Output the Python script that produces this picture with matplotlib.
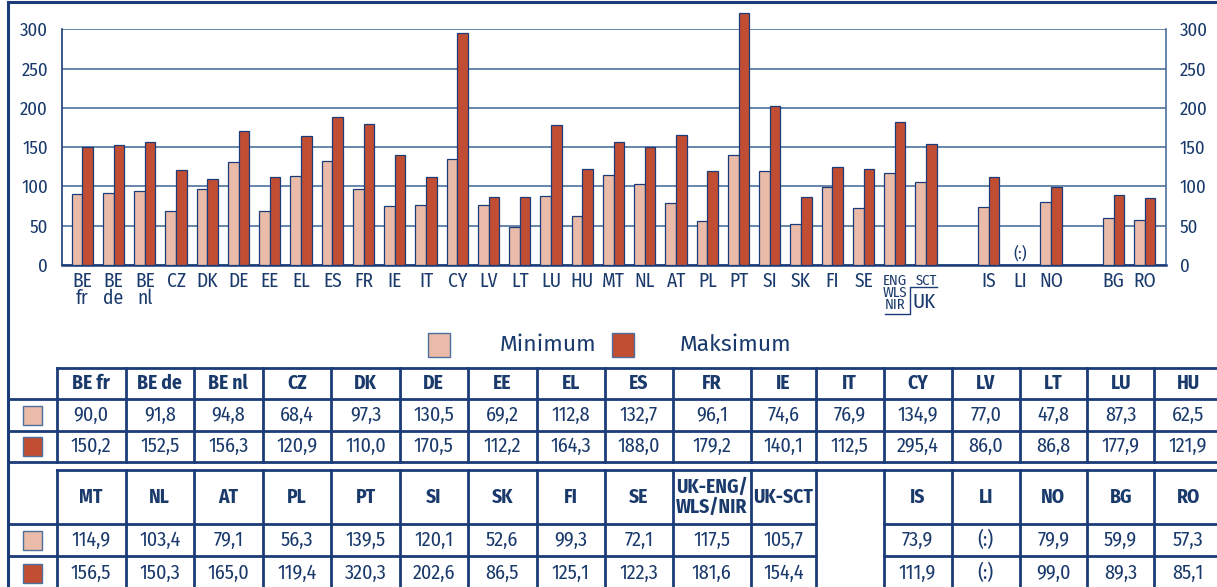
import numpy as np
import matplotlib
matplotlib.use("Agg")
import matplotlib.pyplot as plt
from matplotlib.patches import Rectangle

plt.rcParams['font.family'] = ['Fira Sans Condensed', 'Archivo Narrow', 'DejaVu Sans']

# data (index, EU-27 = 100)
countries = ['BE fr', 'BE de', 'BE nl', 'CZ', 'DK', 'DE', 'EE', 'EL', 'ES', 'FR', 'IE',
             'IT', 'CY', 'LV', 'LT', 'LU', 'HU',
             'MT', 'NL', 'AT', 'PL', 'PT', 'SI', 'SK', 'FI', 'SE',
             'UK-ENG/\nWLS/NIR', 'UK-SCT', 'IS', 'LI', 'NO', 'BG', 'RO']
x_labels = ['BE\nfr', 'BE\nde', 'BE\nnl', 'CZ', 'DK', 'DE', 'EE', 'EL', 'ES', 'FR', 'IE',
            'IT', 'CY', 'LV', 'LT', 'LU', 'HU',
            'MT', 'NL', 'AT', 'PL', 'PT', 'SI', 'SK', 'FI', 'SE',
            '', '', 'IS', 'LI', 'NO', 'BG', 'RO']
minimum = [90.0, 91.8, 94.8, 68.4, 97.3, 130.5, 69.2, 112.8, 132.7, 96.1, 74.6,
           76.9, 134.9, 77.0, 47.8, 87.3, 62.5,
           114.9, 103.4, 79.1, 56.3, 139.5, 120.1, 52.6, 99.3, 72.1,
           117.5, 105.7, 73.9, np.nan, 79.9, 59.9, 57.3]
maximum = [150.2, 152.5, 156.3, 120.9, 110.0, 170.5, 112.2, 164.3, 188.0, 179.2, 140.1,
           112.5, 295.4, 86.0, 86.8, 177.9, 121.9,
           156.5, 150.3, 165.0, 119.4, 320.3, 202.6, 86.5, 125.1, 122.3,
           181.6, 154.4, 111.9, np.nan, 99.0, 89.3, 85.1]
group_sizes = [28, 3, 2]   # EU+UK / EEA / candidate countries
n_table1 = 17

NAVY = '#1b3c78'
TXT = '#1a3a6c'
GRID = '#4d6f9c'
C_MIN = '#e9bba8'
C_MAX = '#c14d33'

# x positions with one empty slot between groups
pos = []
start = 0
for g in group_sizes:
    pos += list(range(start, start + g))
    start += g + 1
pos = np.array(pos, dtype=float)

W, H = 1217, 587
fig = plt.figure(figsize=(W / 100, H / 100), dpi=100)

ax_l, ax_r, ax_t, ax_b = 61.7, 1166, 29.3, 265
ax = fig.add_axes([ax_l / W, 1 - ax_b / H, (ax_r - ax_l) / W, (ax_b - ax_t) / H])
ax_hpx = ax_b - ax_t

bw = 0.34
ax.bar(pos - bw / 2, minimum, bw, color=C_MIN, edgecolor=NAVY, linewidth=0.9, clip_on=False, zorder=3)
ax.bar(pos + bw / 2, maximum, bw, color=C_MAX, edgecolor=NAVY, linewidth=0.9, clip_on=False, zorder=3)

ax.set_ylim(0, 300)
ax.set_xlim(-0.66, pos[-1] + 0.68)
ax.set_yticks(range(0, 301, 50))
ax.yaxis.grid(True, color=GRID, linewidth=1.2)
ax.set_axisbelow(True)
ax.spines['top'].set_visible(False)
ax.spines['left'].set_color(NAVY)
ax.spines['left'].set_linewidth(1.2)
ax.spines['right'].set_color(GRID)
ax.spines['right'].set_linewidth(1.2)
ax.spines['bottom'].set_color(NAVY)
ax.spines['bottom'].set_linewidth(1.8)
ax.tick_params(axis='y', length=0, labelsize=13.5, labelcolor=TXT, pad=10,
               labelleft=True, labelright=True)
ax.set_xticks(pos)
ax.set_xticklabels(x_labels)
ax.tick_params(axis='x', length=0, labelsize=14, labelcolor=TXT, pad=5)
for lab in ax.get_xticklabels():
    lab.set_linespacing(0.8)

# missing value marker for LI
li = countries.index('LI')
ax.text(pos[li], 14, '(:)', ha='center', va='center', color=TXT, fontsize=12)

# UK sub-labels and bracket
tr = ax.get_xaxis_transform()
def below(px):
    return -(px - ax_b) / ax_hpx
i_eng = countries.index('UK-ENG/\nWLS/NIR')
i_sct = countries.index('UK-SCT')
ax.text(pos[i_eng], below(274), 'ENG\nWLS\nNIR', transform=tr, ha='center', va='top',
        fontsize=10.5, color=TXT, linespacing=0.8)
ax.text(pos[i_sct], below(274), 'SCT', transform=tr, ha='center', va='top',
        fontsize=10.5, color=TXT)
ax.text(pos[i_sct] - 0.05, below(302), 'UK', transform=tr, ha='center', va='center',
        fontsize=15, color=TXT)
mid = (pos[i_eng] + pos[i_sct]) / 2
ax.plot([pos[i_eng] - 0.3, mid, mid, pos[i_sct] + 0.35],
        [below(314), below(314), below(287), below(287)],
        transform=tr, color=NAVY, lw=1.0, clip_on=False)

# overlay in pixel coordinates for the frame, legend and table
ov = fig.add_axes([0, 0, 1, 1], zorder=-1)
ov.set_xlim(0, W)
ov.set_ylim(H, 0)
ov.axis('off')
ov.plot([8, 8], [1.5, H], color=NAVY, lw=2.2)
ov.plot([8, W], [1.5, 1.5], color=NAVY, lw=2.2)

# legend
for x0, tx, col, name in [(428, 500, C_MIN, 'Minimum'), (612, 680, C_MAX, 'Maksimum')]:
    ov.add_patch(Rectangle((x0, 333), 22, 24, facecolor=col, edgecolor=GRID, lw=1))
    ov.text(tx, 345, name, ha='left', va='center', fontsize=16.5, color=TXT,
            family=['Fira Sans', 'Open Sans', 'DejaVu Sans'])

# table
col_x = [56.5, 125.7, 193.7, 262.8, 331.2, 400, 467.6, 536.8, 604.7, 672.8, 750.8,
         815.7, 883.5, 951.6, 1019.7, 1087, 1154.3, 1222]
LW = 2.0

def fmt(v):
    return '(:)' if np.isnan(v) else f'{v:.1f}'.replace('.', ',')

def draw_table(names, mins, maxs, top, hdr, r1, r2, blank=None):
    ov.plot([col_x[0], col_x[-1]], [top, top], color=NAVY, lw=LW)
    for y in (hdr, r1, r2):
        if blank is None:
            ov.plot([8, col_x[-1]], [y, y], color=NAVY, lw=LW)
        else:
            ov.plot([8, col_x[blank]], [y, y], color=NAVY, lw=LW)
            ov.plot([col_x[blank + 1], col_x[-1]], [y, y], color=NAVY, lw=LW)
    for xv in col_x:
        ov.plot([xv, xv], [top, r2], color=NAVY, lw=LW)
    for j, name in enumerate(names):
        if name is None:
            continue
        xc = (col_x[j] + col_x[j + 1]) / 2
        ov.text(xc, (top + hdr) / 2, name, ha='center', va='center', fontsize=14,
                fontweight='bold', color=TXT, linespacing=1.0)
        ov.text(xc, (hdr + r1) / 2, fmt(mins[j]), ha='center', va='center', fontsize=14.5, color=TXT)
        ov.text(xc, (r1 + r2) / 2, fmt(maxs[j]), ha='center', va='center', fontsize=14.5, color=TXT)
    for col, (ya, yb) in [(C_MIN, (hdr, r1)), (C_MAX, (r1, r2))]:
        yc = (ya + yb) / 2
        ov.add_patch(Rectangle((22.5, yc - 9.5), 19, 19, facecolor=col, edgecolor=GRID, lw=1))

draw_table(countries[:n_table1], minimum[:n_table1], maximum[:n_table1], 367.7, 399.3, 430.7, 461.7)
t2_names = countries[n_table1:]
t2_min = minimum[n_table1:]
t2_max = maximum[n_table1:]
k = t2_names.index('UK-SCT') + 1
t2_names = t2_names[:k] + [None] + t2_names[k:]
t2_min = t2_min[:k] + [np.nan] + t2_min[k:]
t2_max = t2_max[:k] + [np.nan] + t2_max[k:]
draw_table(t2_names, t2_min, t2_max, 470, 524.3, 556, 590, blank=k)

fig.savefig('out.png', dpi=100)
